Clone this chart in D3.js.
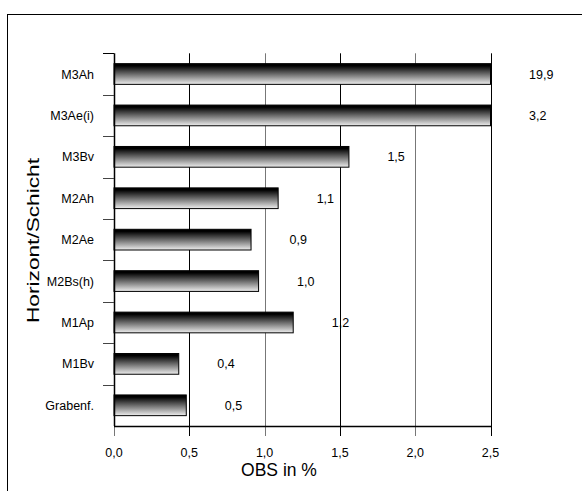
<!DOCTYPE html>
<html>
<head>
<meta charset="utf-8">
<script src="https://cdn.jsdelivr.net/npm/d3@7"></script>
<style>
  html, body { margin: 0; padding: 0; background: #fff; }
  svg { display: block; }
  text { font-family: "Liberation Sans", Arial, sans-serif; fill: #000; }
</style>
</head>
<body>
<svg id="chart" width="582" height="491"></svg>
<script>
const categories = ["M3Ah", "M3Ae(i)", "M3Bv", "M2Ah", "M2Ae", "M2Bs(h)", "M1Ap", "M1Bv", "Grabenf."];
const values = [19.9, 3.2, 1.56, 1.09, 0.91, 0.96, 1.19, 0.43, 0.48];
const valueLabels = ["19,9", "3,2", "1,5", "1,1", "0,9", "1,0", "1,2", "0,4", "0,5"];
const xTicks = [0, 0.5, 1.0, 1.5, 2.0, 2.5];
const xTickLabels = ["0,0", "0,5", "1,0", "1,5", "2,0", "2,5"];
const xTitle = "OBS in %";
const yTitle = "Horizont/Schicht";

(function () {
const svg = d3.select("#chart");
const pL = 114, pR = 490.5, pT = 53.3, pB = 426;
const xMax = 2.5;

const x = d3.scaleLinear().domain([0, xMax]).range([pL, pR]);
const y = d3.scaleBand().domain(categories).range([pT, pB]).paddingInner(0.5).paddingOuter(0.25);
const yb = d3.scaleBand().domain(categories).range([pT, pB]);

// outer frame
svg.append("rect").attr("x", 7.5).attr("y", 14.5).attr("width", 700).attr("height", 600)
  .attr("fill", "#fff").attr("stroke", "#000").attr("stroke-width", 1);

// gradient
const defs = svg.append("defs");
const grad = defs.append("linearGradient").attr("id", "barGrad")
  .attr("x1", 0).attr("y1", 0).attr("x2", 0).attr("y2", 1);
grad.append("stop").attr("offset", "0%").attr("stop-color", "#000");
grad.append("stop").attr("offset", "10%").attr("stop-color", "#000");
grad.append("stop").attr("offset", "100%").attr("stop-color", "#eeeeee");

const gridColor = (d, i) => (i % 2 === 1 ? "#000" : "#777");

// gridlines (with ticks below axis)
svg.append("g").selectAll("line").data(xTicks).join("line")
  .attr("x1", d => Math.round(x(d)) + 0.5).attr("x2", d => Math.round(x(d)) + 0.5)
  .attr("y1", d => d === 0 ? pB : pT).attr("y2", pB + 10)
  .attr("stroke", gridColor).attr("stroke-width", 1);

// bars
svg.append("g").selectAll("rect").data(categories).join("rect")
  .attr("x", x(0))
  .attr("y", d => y(d))
  .attr("width", (d, i) => x(Math.min(values[i], xMax)) - x(0))
  .attr("height", y.bandwidth())
  .attr("fill", "url(#barGrad)")
  .attr("stroke", "#000").attr("stroke-width", 1);

// y axis line
svg.append("line").attr("x1", Math.round(x(0)) + 0.5).attr("x2", Math.round(x(0)) + 0.5)
  .attr("y1", pT).attr("y2", pB).attr("stroke", "#000").attr("stroke-width", 1.5);
// y tick marks at band boundaries
svg.append("g").selectAll("line").data(categories).join("line")
  .attr("x1", pL - 11).attr("x2", pL)
  .attr("y1", d => Math.round(yb(d)) + 0.5).attr("y2", d => Math.round(yb(d)) + 0.5)
  .attr("stroke", (d, i) => i === 0 ? "#000" : "#444").attr("stroke-width", 1);

// x axis line
svg.append("line").attr("x1", x(0)).attr("x2", x(xMax) + 0.5)
  .attr("y1", Math.round(pB) + 0.5).attr("y2", Math.round(pB) + 0.5)
  .attr("stroke", "#000").attr("stroke-width", 1.5);

// x tick labels
svg.append("g").selectAll("text").data(xTicks).join("text")
  .attr("x", d => x(d)).attr("y", 456.5)
  .attr("text-anchor", "middle").style("font-size", "12.5px")
  .text((d, i) => xTickLabels[i]);

// category labels
svg.append("g").selectAll("text").data(categories).join("text")
  .attr("x", pL - 20).attr("y", d => yb(d) + yb.bandwidth() / 2)
  .attr("dy", "0.36em").attr("text-anchor", "end").style("font-size", "12.5px")
  .text(d => d);

// value labels
svg.append("g").selectAll("text").data(categories).join("text")
  .attr("x", (d, i) => x(Math.min(values[i], xMax)) + 38.5)
  .attr("y", d => yb(d) + yb.bandwidth() / 2)
  .attr("dy", "0.36em").attr("text-anchor", "start").style("font-size", "12.5px")
  .text((d, i) => valueLabels[i]);

// axis titles
svg.append("text").attr("x", 279).attr("y", 476).attr("text-anchor", "middle")
  .style("font-size", "17.5px").text(xTitle);
svg.append("text").attr("transform", "translate(39,240.5) rotate(-90)")
  .attr("text-anchor", "middle").style("font-size", "16.5px")
  .attr("textLength", 165).attr("lengthAdjust", "spacingAndGlyphs")
  .text(yTitle);
})();
</script>
</body>
</html>
